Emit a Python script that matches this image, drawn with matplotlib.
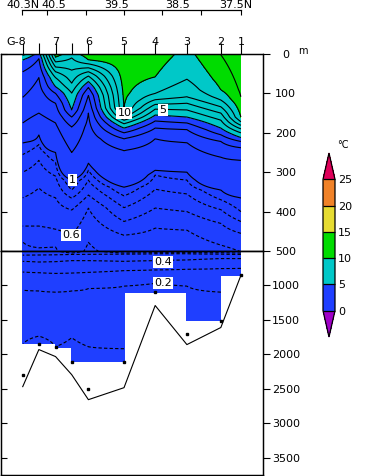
import numpy as np
import matplotlib
matplotlib.use('Agg')
import matplotlib.pyplot as plt
from matplotlib.colors import ListedColormap, BoundaryNorm
from matplotlib.transforms import ScaledTranslation
import matplotlib.cm as cm

# stations along the section (km from G-8)
stn_km = [0, 29, 59, 88, 118, 182, 238, 295, 356, 392]
stn_names = ['G-8', '', '7', '', '6', '5', '4', '3', '2', '1']

# latitude axis
lat_tick_km = [0, 44.7, 114.6, 182.6, 250.6, 320.5, 392]
lat_label_km = [1.8, 57.3, 170, 279, 383]
lat_labels = ['40.3N', '40.5', '39.5', '38.5', '37.5N']

# temperature at the surface and at the deepest sample, deepest sample depth (m)
surf_t = [6.5, 4.6, 10.4, 9.6, 10.5, 10.8, 10.5, 9.7, 11.0, 11.8]
bot_t = [0.08, 0.07, 0.09, 0.07, 0.08, 0.09, 0.16, 0.14, 0.15, 0.28]
max_obs = [2294, 1843, 1900, 2105, 2497, 2105, 1102, 1698, 1509, 855]
# bottom depth (m)
bottom = [2468, 1930, 2032, 2294, 2657, 2483, 1291, 1858, 1610, 855]

# depth (m) of each isotherm at each station (None = not present)
iso_levels = [11, 10, 9, 8, 7, 6, 5, 4, 3, 2, 1,
              0.9, 0.8, 0.7, 0.6, 0.5, 0.45, 0.4, 0.3, 0.2, 0.1]
iso_depth = [
    [None, None, None, None, None, None, None, None, 2, 109],
    [None, None, 8, None, 15, 137, 58, None, 91, 160],
    [None, None, 20, 10, 25, 150, 100, 64, 117, 172],
    [None, None, 33, 41, 35, 160, 116, 109, 134, 181],
    [None, None, 45, 74, 45, 168, 128, 125, 150, 190],
    [3, None, 60, 99, 56, 177, 140, 142, 168, 200],
    [15, None, 83, 142, 70, 188, 155, 160, 188, 212],
    [45, 12, 100, 160, 85, 200, 170, 175, 205, 222],
    [110, 60, 125, 185, 105, 215, 188, 192, 222, 238],
    [175, 150, 175, 250, 150, 245, 215, 225, 262, 270],
    [225, 205, 250, 320, 277, 338, 295, 300, 345, 365],
    [255, 230, 275, 345, 295, 360, 307, 320, 370, 400],
    [300, 270, 310, 366, 320, 390, 343, 355, 395, 425],
    [365, 340, 365, 396, 358, 425, 391, 400, 430, 455],
    [437, 437, 445, 460, 391, 460, 442, 447, 485, 502],
    [477, 492, 490, 530, 478, 530, 525, 525, 525, 530],
    [560, 558, 555, 550, 548, 545, 540, 540, 545, 550],
    [650, 660, 655, 640, 640, 650, 640, 630, 610, 610],
    [805, 815, 825, 820, 810, 785, 775, 765, 755, 752],
    [1068, 1080, 1097, 1080, 1045, 1010, 970, 1010, 1097, None],
    [1850, 1735, 1889, 1758, 1889, 1918, None, None, None, None],
]

fill_levels = [0, 5, 10, 15, 20, 25]
fill_colors = ['#1f3fff', '#00c8c8', '#00dc00', '#e6dc32', '#f08228']
under_color = '#a000c8'
over_color = '#e0005a'
line_levels = [0.1, 0.2, 0.3, 0.4, 0.45, 0.5, 0.6, 0.7, 0.8, 0.9,
               1, 2, 3, 4, 5, 6, 7, 8, 9, 10, 11, 12, 13, 14]

# labelled isotherms
label_vals = ['10', '5', '1', '0.6', '0.4', '0.2']
label_km = [182.6, 252, 89.5, 86, 252, 252]
label_dep = [150, 142, 320, 459, 660, 964]

# build profiles on a depth grid
z = np.arange(0, 2700, 2.0)
T = np.full((len(z), len(stn_km)), np.nan)
for j in range(len(stn_km)):
    zz = [0.0]
    tt = [surf_t[j]]
    for lev, row in zip(iso_levels, iso_depth):
        if row[j] is not None:
            zz.append(row[j])
            tt.append(lev)
    zz.append(max_obs[j])
    tt.append(bot_t[j])
    order = np.argsort(zz)
    col = np.interp(z, np.array(zz)[order], np.array(tt)[order])
    col[z > max_obs[j]] = np.nan
    T[:, j] = col
T = np.ma.masked_invalid(T)

cmap = ListedColormap(fill_colors)
cmap.set_under(under_color)
cmap.set_over(over_color)
norm = BoundaryNorm(fill_levels, cmap.N)

W, H = 373, 476
fig = plt.figure(figsize=(W / 100, H / 100), dpi=100)
ax1 = fig.add_axes([0.8 / W, 225 / H, 262 / W, 197 / H])
ax2 = fig.add_axes([0.8 / W, 1 / H, 262 / W, 224 / H])

xlim = (-39.4, 431.4)
lstyles = [(0, (3, 2)) if l < 1 else 'solid' for l in line_levels]
for ax, ylim in [(ax1, (500, 0)), (ax2, (3750, 500))]:
    ax.contourf(stn_km, z, T, levels=fill_levels, cmap=cmap, norm=norm, extend='both')
    ax.contour(stn_km, z, T, levels=line_levels, colors='k',
               linewidths=0.8, linestyles=lstyles)
    ax.set_xlim(*xlim)
    ax.set_ylim(*ylim)
    for s in ax.spines.values():
        s.set_linewidth(0.9)

for v, xk, d in zip(label_vals, label_km, label_dep):
    ax = ax1 if d < 500 else ax2
    ax.text(xk, d, v, fontsize=8, ha='center', va='center', zorder=5,
            bbox=dict(facecolor='white', edgecolor='none', pad=0.8))

# sea bottom and deepest samples
ax2.plot(stn_km, bottom, color='k', lw=0.8)
ax2.plot(stn_km, max_obs, 's', color='k', ms=1.8)

# station ticks on top
ax1.set_xticks(stn_km)
ax1.set_xticklabels(stn_names, fontsize=8)
ax1.tick_params(axis='x', top=True, bottom=False, labeltop=True, labelbottom=False,
                direction='out', length=8, width=0.8, pad=-3)
g8 = ax1.get_xticklabels(which='major')[0]
ax2.tick_params(axis='x', top=False, bottom=False, labelbottom=False)

# depth ticks
for ax, ticks in [(ax1, [0, 100, 200, 300, 400, 500]),
                  (ax2, [1000, 1500, 2000, 2500, 3000, 3500])]:
    ax.set_yticks(ticks)
    ax.tick_params(axis='y', left=True, right=False, labelleft=False,
                   direction='in', length=4.5, width=0.8)
    axr = ax.twinx()
    axr.set_ylim(ax.get_ylim())
    axr.set_yticks(ticks)
    axr.set_yticklabels([str(t) for t in ticks])
    axr.tick_params(axis='y', direction='out', length=5, width=0.8, labelsize=8, pad=11.5)
    for lab in axr.get_yticklabels():
        lab.set_horizontalalignment('center')
    for s in axr.spines.values():
        s.set_linewidth(0.9)

fig.text(298 / W, 1 - 51 / H, 'm', fontsize=7, ha='left', va='center')

# latitude axis
axl = fig.add_axes([22 / W, (H - 12) / H, 219 / W, 2 / H])
axl.set_xlim(0, 392)
axl.set_ylim(0, 1)
for k in ['left', 'right', 'bottom']:
    axl.spines[k].set_visible(False)
axl.spines['top'].set_linewidth(0.9)
axl.patch.set_visible(False)
axl.set_yticks([])
axl.set_xticks(lat_label_km)
axl.set_xticklabels(lat_labels, fontsize=8)
axl.set_xticks(lat_tick_km, minor=True)
axl.tick_params(axis='x', which='major', top=True, bottom=False, labeltop=True,
                labelbottom=False, length=0, pad=0)
axl.tick_params(axis='x', which='minor', top=True, bottom=False, direction='in',
                length=3.6, width=0.8)

# colour bar
cax = fig.add_axes([323 / W, (H - 337) / H, 12 / W, 184 / H])
sm = cm.ScalarMappable(norm=norm, cmap=cmap)
cb = fig.colorbar(sm, cax=cax, extend='both', extendfrac=0.2, drawedges=True,
                  ticks=fill_levels)
cb.outline.set_linewidth(0.9)
cb.dividers.set_linewidth(0.9)
cax.tick_params(length=0, labelsize=8, pad=2)
fig.text(337 / W, 1 - 145 / H, '°C', fontsize=7, ha='left', va='center')

# shift the G-8 label a little to the left, as in the original
for t in ax1.xaxis.get_major_ticks()[:1]:
    t.label2.set_transform(t.label2.get_transform() +
                           ScaledTranslation(-6 / 100, 0, fig.dpi_scale_trans))

fig.savefig('out.png', dpi=100)
